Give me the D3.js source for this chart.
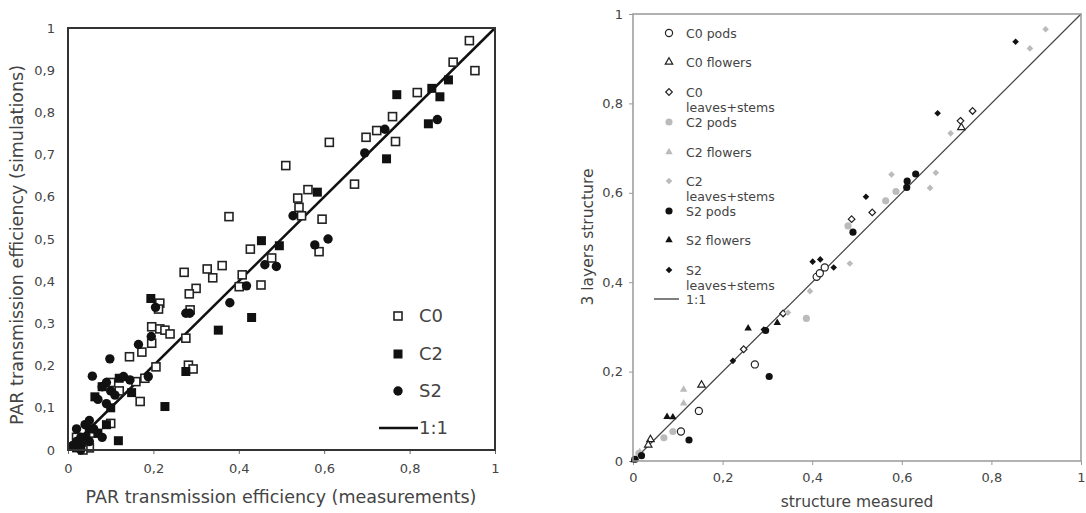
<!DOCTYPE html>
<html>
<head>
<meta charset="utf-8">
<script src="https://cdn.jsdelivr.net/npm/d3@7"></script>
<style>
  body { margin: 0; background: #fff; }
  text { font-family: "DejaVu Sans", Verdana, sans-serif; fill: #444; }
</style>
</head>
<body>
<div id="chart"></div>
<script>
// ---- left panel: PAR transmission efficiency ----
const parC0 = [
  [0.94,0.97],[0.953,0.899],[0.902,0.919],[0.818,0.847],[0.76,0.79],[0.723,0.757],[0.698,0.741],
  [0.767,0.731],[0.612,0.729],[0.51,0.674],[0.671,0.63],[0.562,0.617],[0.538,0.597],[0.541,0.575],
  [0.547,0.555],[0.595,0.547],[0.588,0.47],[0.377,0.553],[0.427,0.476],[0.477,0.455],[0.408,0.415],
  [0.401,0.387],[0.452,0.391],[0.361,0.437],[0.326,0.429],[0.339,0.408],[0.272,0.421],[0.30,0.383],
  [0.284,0.37],[0.286,0.332],[0.215,0.348],[0.212,0.334],[0.196,0.292],[0.215,0.287],[0.227,0.284],
  [0.239,0.275],[0.196,0.253],[0.173,0.232],[0.144,0.221],[0.276,0.265],[0.206,0.197],[0.282,0.201],
  [0.293,0.192],[0.18,0.17],[0.169,0.115],[0.159,0.162],[0.10,0.063],[0.10,0.16],[0.12,0.14],
  [0.03,0.01],[0.04,0.02],[0.05,0.005],[0.02,0.03],[0.06,0.04],[0.035,0.0]
];
const parC2 = [
  [0.77,0.842],[0.852,0.857],[0.871,0.837],[0.891,0.877],[0.844,0.773],[0.746,0.69],[0.584,0.611],
  [0.453,0.496],[0.495,0.484],[0.43,0.314],[0.352,0.284],[0.194,0.359],[0.276,0.186],[0.227,0.103],
  [0.118,0.022],[0.149,0.136],[0.063,0.126],[0.10,0.10],[0.09,0.06],[0.08,0.15],[0.12,0.17],
  [0.04,0.03],[0.03,0.01],[0.02,0.005],[0.05,0.05],[0.07,0.04]
];
const parS2 = [
  [0.865,0.783],[0.742,0.76],[0.695,0.704],[0.527,0.555],[0.609,0.50],[0.578,0.486],[0.461,0.439],
  [0.488,0.435],[0.418,0.389],[0.379,0.349],[0.276,0.324],[0.285,0.324],[0.205,0.338],[0.195,0.269],
  [0.165,0.25],[0.188,0.174],[0.098,0.216],[0.057,0.175],[0.13,0.174],[0.145,0.166],[0.08,0.15],
  [0.10,0.14],[0.09,0.16],[0.11,0.13],[0.07,0.12],[0.09,0.11],[0.02,0.05],[0.04,0.06],[0.05,0.07],
  [0.03,0.03],[0.06,0.05],[0.08,0.03],[0.02,0.02],[0.01,0.01],[0.03,0.0],[0.05,0.02]
];
const parTicks = [0,0.1,0.2,0.3,0.4,0.5,0.6,0.7,0.8,0.9,1];
const parXTicks = [0,0.2,0.4,0.6,0.8,1];
const parLegend = ["C0","C2","S2","1:1"];

// ---- right panel: 3 layers structure ----
const c0Pods = [[0.272,0.216],[0.147,0.112],[0.107,0.066],[0.41,0.412],[0.417,0.42],[0.428,0.433]];
const c0Flowers = [[0.153,0.17],[0.039,0.048],[0.034,0.036],[0.733,0.746]];
const c0Leaves = [[0.488,0.541],[0.534,0.556],[0.731,0.761],[0.758,0.783],[0.335,0.33],[0.247,0.25]];
const c2Pods = [[0.069,0.052],[0.089,0.066],[0.387,0.319],[0.48,0.526],[0.564,0.582],[0.587,0.603],[0.013,0.017]];
const c2Flowers = [[0.113,0.16],[0.113,0.129],[0.015,0.02]];
const c2Leaves = [[0.921,0.966],[0.886,0.923],[0.709,0.733],[0.577,0.641],[0.676,0.645],[0.663,0.611],
  [0.484,0.442],[0.395,0.38],[0.346,0.332]];
const s2Pods = [[0.491,0.512],[0.611,0.612],[0.612,0.626],[0.631,0.642],[0.296,0.292],[0.304,0.189],
  [0.125,0.047],[0.019,0.012],[0.004,0.004]];
const s2Flowers = [[0.257,0.297],[0.076,0.099],[0.089,0.098],[0.322,0.309],[0.002,0.002]];
const s2Leaves = [[0.854,0.938],[0.68,0.778],[0.52,0.591],[0.401,0.446],[0.418,0.451],[0.448,0.433],
  [0.223,0.224],[0.292,0.294],[0.006,0.004]];
const structTicks = [0,0.2,0.4,0.6,0.8,1];
const structLegend = ["C0 pods","C0 flowers","C0\nleaves+stems","C2 pods","C2 flowers","C2\nleaves+stems",
  "S2 pods","S2 flowers","S2\nleaves+stems","1:1"];

const fmt = d => d === 0 ? "0" : d === 1 ? "1" : d3.format(".1f")(d).replace(".", ",");

const svg = d3.select("#chart").append("svg")
  .attr("width", 1086).attr("height", 513);

// ================= left chart =================
const L = { left: 68, right: 495, top: 28, bottom: 450 };
const xL = d3.scaleLinear().domain([0, 1]).range([L.left, L.right]);
const yL = d3.scaleLinear().domain([0, 1]).range([L.bottom, L.top]);

const gL = svg.append("g");
gL.append("g").attr("transform", `translate(0,${L.bottom})`)
  .call(d3.axisBottom(xL).tickValues(parXTicks).tickFormat(fmt).tickSize(4).tickPadding(10))
  .call(g => g.select(".domain").remove())
  .call(g => g.selectAll("line").attr("stroke", "#666"))
  .call(g => g.selectAll("text").style("font-size", "13px").attr("fill", "#555"));
gL.append("g").attr("transform", `translate(${L.left},0)`)
  .call(d3.axisLeft(yL).tickValues(parTicks).tickFormat(fmt).tickSize(0).tickPadding(13))
  .call(g => g.select(".domain").remove())
  .call(g => g.selectAll("text").style("font-size", "13px").attr("fill", "#555"));

// 1:1 line
gL.append("line")
  .attr("x1", xL(0)).attr("y1", yL(0)).attr("x2", xL(1)).attr("y2", yL(1))
  .attr("stroke", "#111").attr("stroke-width", 2.5);

const sq = 8;
gL.selectAll(".c0").data(parC0).enter().append("rect")
  .attr("x", d => xL(d[0]) - sq / 2).attr("y", d => yL(d[1]) - sq / 2)
  .attr("width", sq).attr("height", sq)
  .attr("fill", "#fff").attr("stroke", "#222").attr("stroke-width", 1.6);
gL.selectAll(".c2").data(parC2).enter().append("rect")
  .attr("x", d => xL(d[0]) - 4.5).attr("y", d => yL(d[1]) - 4.5)
  .attr("width", 9).attr("height", 9).attr("fill", "#111");
gL.selectAll(".s2").data(parS2).enter().append("circle")
  .attr("cx", d => xL(d[0])).attr("cy", d => yL(d[1])).attr("r", 4.7).attr("fill", "#111");

gL.append("rect")
  .attr("x", L.left).attr("y", L.top).attr("width", L.right - L.left).attr("height", L.bottom - L.top)
  .attr("fill", "none").attr("stroke", "#333").attr("stroke-width", 2);

// legend
const legL = gL.append("g");
const legY = [316, 354, 391, 428];
legL.append("rect").attr("x", 394).attr("y", legY[0] - 4).attr("width", 8).attr("height", 8)
  .attr("fill", "#fff").attr("stroke", "#222").attr("stroke-width", 1.6);
legL.append("rect").attr("x", 393.5).attr("y", legY[1] - 4.5).attr("width", 9).attr("height", 9).attr("fill", "#111");
legL.append("circle").attr("cx", 398).attr("cy", legY[2]).attr("r", 4.7).attr("fill", "#111");
legL.append("line").attr("x1", 379).attr("x2", 418).attr("y1", legY[3]).attr("y2", legY[3])
  .attr("stroke", "#111").attr("stroke-width", 2.5);
legL.selectAll("text.lab").data(parLegend).enter().append("text")
  .attr("x", 419).attr("y", (d, i) => legY[i]).attr("dy", "0.36em")
  .style("font-size", "18px").text(d => d);

gL.append("text").attr("x", 281).attr("y", 503)
  .attr("text-anchor", "middle").style("font-size", "17.5px")
  .text("PAR transmission efficiency (measurements)");
gL.append("text").attr("transform", `translate(23,245) rotate(-90)`)
  .attr("text-anchor", "middle").style("font-size", "17.5px")
  .text("PAR transmission efficiency (simulations)");

// ================= right chart =================
const R = { left: 633, right: 1081, top: 14, bottom: 461 };
const xR = d3.scaleLinear().domain([0, 1]).range([R.left, R.right]);
const yR = d3.scaleLinear().domain([0, 1]).range([R.bottom, R.top]);
const gR = svg.append("g");

gR.append("g").attr("transform", `translate(0,${R.bottom})`)
  .call(d3.axisBottom(xR).tickValues(structTicks).tickFormat(fmt).tickSize(4).tickPadding(8))
  .call(g => g.select(".domain").remove())
  .call(g => g.selectAll("line").attr("stroke", "#999"))
  .call(g => g.selectAll("text").style("font-size", "13px").attr("fill", "#555"));
gR.append("g").attr("transform", `translate(${R.left},0)`)
  .call(d3.axisLeft(yR).tickValues(structTicks).tickFormat(fmt).tickSize(4).tickPadding(6))
  .call(g => g.select(".domain").remove())
  .call(g => g.selectAll("line").attr("stroke", "#999"))
  .call(g => g.selectAll("text").style("font-size", "13px").attr("fill", "#555"));

gR.append("line")
  .attr("x1", xR(0)).attr("y1", yR(0)).attr("x2", xR(1)).attr("y2", yR(1))
  .attr("stroke", "#444").attr("stroke-width", 1.2);

const diamondPath = "M0,-3.3L3.3,0L0,3.3L-3.3,0Z";
const sym = {
  circle: d3.symbol().type(d3.symbolCircle).size(40),
  tri: d3.symbol().type(d3.symbolTriangle).size(24),
  diamond: () => diamondPath
};
const series = [
  { data: c0Pods, s: "circle", fill: "#fff", stroke: "#222" },
  { data: c0Flowers, s: "tri", fill: "#fff", stroke: "#222" },
  { data: c0Leaves, s: "diamond", fill: "#fff", stroke: "#222" },
  { data: c2Pods, s: "circle", fill: "#bbb", stroke: "none" },
  { data: c2Flowers, s: "tri", fill: "#bbb", stroke: "none" },
  { data: c2Leaves, s: "diamond", fill: "#bbb", stroke: "none" },
  { data: s2Pods, s: "circle", fill: "#111", stroke: "none" },
  { data: s2Flowers, s: "tri", fill: "#111", stroke: "none" },
  { data: s2Leaves, s: "diamond", fill: "#111", stroke: "none" }
];
series.forEach(se => {
  gR.append("g").selectAll("path").data(se.data).enter().append("path")
    .attr("d", sym[se.s])
    .attr("transform", d => `translate(${xR(d[0])},${yR(d[1])})`)
    .attr("fill", se.fill).attr("stroke", se.stroke).attr("stroke-width", 1.2);
});

gR.append("rect")
  .attr("x", R.left).attr("y", R.top).attr("width", R.right - R.left).attr("height", R.bottom - R.top)
  .attr("fill", "none").attr("stroke", "#999").attr("stroke-width", 1.5);

// legend
const rowY = [33, 62, 92, 122, 152, 181, 211, 240, 270];
const legR = gR.append("g");
series.forEach((se, i) => {
  legR.append("path").attr("d", sym[se.s])
    .attr("transform", `translate(669,${rowY[i]})`)
    .attr("fill", se.fill).attr("stroke", se.stroke).attr("stroke-width", 1.2);
});
legR.append("line").attr("x1", 654).attr("x2", 679).attr("y1", 299).attr("y2", 299)
  .attr("stroke", "#555").attr("stroke-width", 1.5);
structLegend.forEach((lab, i) => {
  const t = legR.append("text").attr("x", 686).attr("y", i < 9 ? rowY[i] : 299)
    .style("font-size", "12.5px");
  lab.split("\n").forEach((part, j) => {
    t.append("tspan").attr("x", 686).attr("dy", j === 0 ? "0.36em" : "15px").text(part);
  });
});

gR.append("text").attr("x", 857).attr("y", 507)
  .attr("text-anchor", "middle").style("font-size", "15.5px").text("structure measured");
gR.append("text").attr("transform", `translate(593,237) rotate(-90)`)
  .attr("text-anchor", "middle").style("font-size", "15.5px").text("3 layers structure");
</script>
</body>
</html>
